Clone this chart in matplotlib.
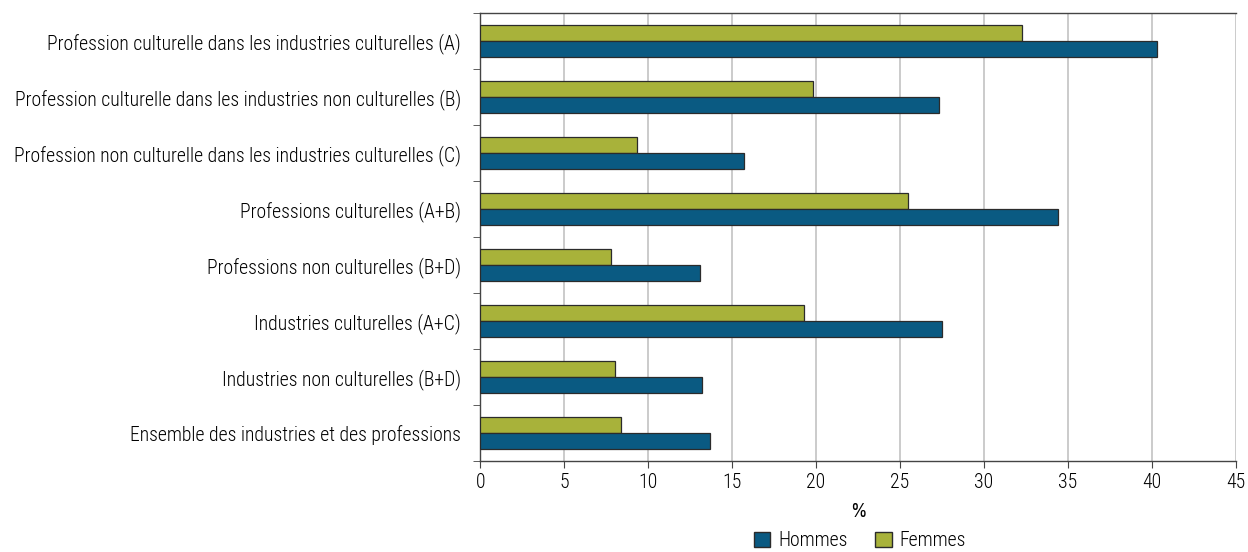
import numpy as np
import matplotlib
matplotlib.use("Agg")
import matplotlib.pyplot as plt
from matplotlib.patches import Patch

plt.rcParams['font.family'] = ['Roboto Condensed', 'Archivo Narrow', 'Liberation Sans Narrow', 'DejaVu Sans']
plt.rcParams['font.weight'] = 'light'

# Data
categories = [
    "Profession culturelle dans les industries culturelles (A)",
    "Profession culturelle dans les industries non culturelles (B)",
    "Profession non culturelle dans les industries culturelles (C)",
    "Professions culturelles (A+B)",
    "Professions non culturelles (B+D)",
    "Industries culturelles (A+C)",
    "Industries non culturelles (B+D)",
    "Ensemble des industries et des professions",
]
hommes = [40.3, 27.3, 15.7, 34.4, 13.1, 27.5, 13.2, 13.7]
femmes = [32.3, 19.8, 9.3, 25.5, 7.8, 19.3, 8.0, 8.4]

c_hommes = "#0A5A82"
c_femmes = "#A8B23A"
edge = "#2b2b2b"
fs = 14.2

fig = plt.figure(figsize=(12.48, 5.52), dpi=100)
ax = fig.add_axes([0.385, 0.165, 0.605, 0.811])

n = len(categories)
y = np.arange(n)
h = 0.285
ax.barh(y - h / 2, femmes, height=h, color=c_femmes, edgecolor=edge, linewidth=0.9, zorder=3)
ax.barh(y + h / 2, hommes, height=h, color=c_hommes, edgecolor=edge, linewidth=0.9, zorder=3)

ax.set_ylim(n - 0.5, -0.5)
ax.set_xlim(0, 45)
ax.set_xticks(np.arange(0, 46, 5))
ax.set_yticks(y)
ax.set_yticklabels(categories, fontsize=fs)
ax.tick_params(axis='y', length=0, pad=14)
ax.set_yticks(np.arange(-0.5, n, 1), minor=True)
ax.tick_params(axis='y', which='minor', length=5, color="#444444")
ax.tick_params(axis='x', length=5, color="#444444", labelsize=fs, pad=4)

ax.grid(axis='x', color="#bdbdbd", linewidth=1.1, zorder=0)
for s in ['left', 'bottom', 'top']:
    ax.spines[s].set_color("#444444")
    ax.spines[s].set_linewidth(1.0)
ax.spines['right'].set_visible(False)

ax.set_xlabel("%", fontsize=fs, family=['Archivo Narrow', 'Liberation Sans Narrow', 'DejaVu Sans'],
              fontweight='normal', labelpad=7)

handles = [Patch(facecolor=c_hommes, edgecolor=edge, label="Hommes"),
           Patch(facecolor=c_femmes, edgecolor=edge, label="Femmes")]
fig.legend(handles=handles, loc='center', bbox_to_anchor=(0.689, 0.02), ncol=2,
           frameon=False, fontsize=fs, handlelength=0.85, handleheight=0.85,
           handletextpad=0.4, columnspacing=1.4)

fig.savefig("out.png", dpi=100)
